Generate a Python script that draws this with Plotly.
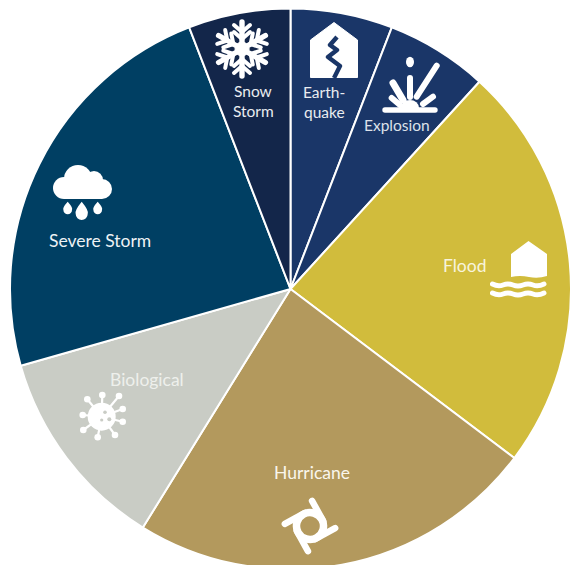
import base64
import plotly.graph_objects as go

# Hazard events by type, clockwise from twelve o'clock
hazards = ["Earthquake", "Explosion", "Flood", "Hurricane", "Biological", "Severe Storm", "Snow Storm"]
counts = [1, 1, 4, 4, 2, 4, 1]
slice_colors = ["#1A3668", "#1A3668", "#D1BC3C", "#B3995D", "#C9CCC5", "#003F63", "#13264A"]

W, H = 574, 572

# Slice captions: text, centre x, centre y, colour, size
captions = [
    ("Snow", 253, 91, "#E9ECF0", 15.5),
    ("Storm", 253, 111, "#E9ECF0", 15.5),
    ("Earth-", 324, 92, "#E9ECF0", 15.5),
    ("quake", 324, 112, "#E9ECF0", 15.5),
    ("Explosion", 397, 125, "#DDE2EA", 15.5),
    ("Severe Storm", 100, 240, "#EEF2F5", 17.5),
    ("Flood", 465, 265, "#F8F4DC", 17.5),
    ("Biological", 147, 379, "#EEF0EC", 17.5),
    ("Hurricane", 312, 473, "#FAF6EC", 17.5),
]

SNOW_ARM = (
    '<g id="a"><path d="M30 30V3" stroke-width="5.4"/>'
    '<path d="M22 6l8 7 8-7M22 13l8 7 8-7" stroke-width="4" fill="none"/></g>'
)
snowflake = (
    '<g stroke="#fff" stroke-linecap="round" stroke-linejoin="round">' + SNOW_ARM
    + "".join(f'<use href="#a" transform="rotate({a} 30 30)"/>' for a in (60, 120, 180, 240, 300))
    + '<circle cx="30" cy="30" r="7" fill="#fff"/></g>'
)
quake_house = (
    '<path fill="#fff" stroke="#fff" stroke-width="1" stroke-linejoin="round" d="M0.500 18L24 0.500 47.500 18V55.500H0.500Z"/>'
    '<path fill="none" stroke="#1A3668" stroke-width="4.4" stroke-linejoin="round" '
    'd="M27 15L20 23 27 28 18 35 30 44 24 56"/>'
)
blast = (
    '<g stroke="#fff" stroke-linecap="round" fill="none">'
    '<path d="M3 54H53" stroke-width="5.4"/>'
    '<path d="M28 22V41" stroke-width="6"/>'
    '<path d="M54.700 9.700L34.700 40.700" stroke-width="6"/>'
    '<path d="M11 27L21 44" stroke-width="7"/>'
    '<path d="M9.700 42L18 49" stroke-width="6"/>'
    '<path d="M51 40.700L41 48" stroke-width="6"/></g>'
    '<path fill="#fff" d="M19 52a9 8 0 0 1 18 0Z"/>'
    '<ellipse cx="28" cy="6" rx="4" ry="5.300" fill="#fff"/>'
)
cloud = (
    '<g fill="#fff"><circle cx="11" cy="23" r="11"/><circle cx="25" cy="14" r="14"/>'
    '<circle cx="41" cy="15" r="9"/><circle cx="49" cy="24" r="10"/>'
    '<path d="M11 18H49V34H11Z"/>'
    '<path d="M14.700 36.700q5.500 6 4.300 8.300a4.300 4.300 0 0 1-8.600 0q-1.200-2.300 4.300-8.300Z"/>'
    '<path d="M28.700 36.700q7.500 9 6 12.300a6 6 0 0 1-12 0q-1.500-3.300 6-12.300Z"/>'
    '<path d="M44.700 36.700q5.500 6 4.300 8.300a4.300 4.300 0 0 1-8.600 0q-1.200-2.300 4.300-8.300Z"/></g>'
)
flood_house = (
    '<path fill="#fff" d="M17.500 0L36 13V35Q27 38 18 36 9 34 0 36V13Z"/>'
    '<g stroke="#fff" stroke-width="5" stroke-linecap="round" fill="none">'
    '<path d="M-18.500 43Q-13 46 -8 44T2 44 12 44 22 44 33 43"/>'
    '<path d="M-18.500 52Q-13 55 -8 53T2 53 12 53 22 53 33 52"/></g>'
)
virus_tips = [(11.3, 8.3), (26.3, 4), (43, 5), (46.7, 18), (46.7, 30.7), (39, 44), (21.7, 46.3), (7.3, 39), (6.7, 24)]
virus = (
    "".join(
        f'<path d="M25.700 25.700L{x} {y}" stroke="#fff" stroke-width="2.200"/>'
        f'<circle cx="{x}" cy="{y}" r="3.300" fill="#fff"/>'
        for x, y in virus_tips
    )
    + '<circle cx="25.700" cy="25.700" r="14" fill="#fff"/>'
    '<g fill="#C9CCC5"><circle cx="29" cy="21.300" r="1.800"/><circle cx="25.700" cy="29" r="1.600"/>'
    '<circle cx="33.300" cy="28.300" r="2"/></g>'
)
storm_eye = (
    '<g transform="rotate(-29 30 30)" fill="none" stroke="#fff" stroke-linecap="round">'
    '<circle cx="30" cy="30" r="13.500" stroke-width="7.500"/>'
    '<path d="M44 9V32M51 44H28M16 51V28M9 16H32" stroke-width="6.500"/></g>'
)

# Icon artwork: svg body, left, top, width, height, viewBox
icons = [
    (snowflake, 212, 19, 60, 60, "0 0 60 60"),
    (quake_house, 310, 22, 48, 56, "0 0 48 56"),
    (blast, 382, 56, 58, 60, "0 0 58 60"),
    (cloud, 53, 165, 60, 56, "0 0 60 56"),
    (flood_house, 490, 241, 58, 60, "-21 0 58 60"),
    (virus, 76, 391, 52, 52, "0 0 52 52"),
    (storm_eye, 280, 496, 60, 60, "0 0 60 60"),
]


def svg_uri(body, view_box):
    svg = f'<svg xmlns="http://www.w3.org/2000/svg" viewBox="{view_box}">{body}</svg>'
    return "data:image/svg+xml;base64," + base64.b64encode(svg.encode()).decode()


fig = go.Figure(
    go.Pie(
        labels=hazards,
        values=counts,
        sort=False,
        direction="clockwise",
        rotation=0,
        textinfo="none",
        hoverinfo="label+value+percent",
        marker=dict(colors=slice_colors, line=dict(color="#FFFFFF", width=2)),
        domain=dict(x=[10 / W, 571 / W], y=[1 - 569.5 / H, 1 - 8.5 / H]),
        showlegend=False,
    )
)

fig.update_layout(
    width=W,
    height=H,
    margin=dict(l=0, r=0, t=0, b=0),
    paper_bgcolor="#FFFFFF",
    font=dict(family="Lato"),
    annotations=[
        dict(
            text=t, x=x / W, y=1 - y / H, xref="paper", yref="paper",
            xanchor="center", yanchor="middle", showarrow=False,
            font=dict(family="Lato", size=s, color=c),
        )
        for t, x, y, c, s in captions
    ],
    images=[
        dict(
            source=svg_uri(body, vb), xref="paper", yref="paper",
            x=l / W, y=1 - t / H, sizex=w / W, sizey=h / H,
            xanchor="left", yanchor="top", sizing="stretch", layer="above",
        )
        for body, l, t, w, h, vb in icons
    ],
)

fig.write_html(
    "out.html",
    config={"displayModeBar": False},
    post_script="document.documentElement.style.overflow='hidden';document.body.style.overflow='hidden';",
)
